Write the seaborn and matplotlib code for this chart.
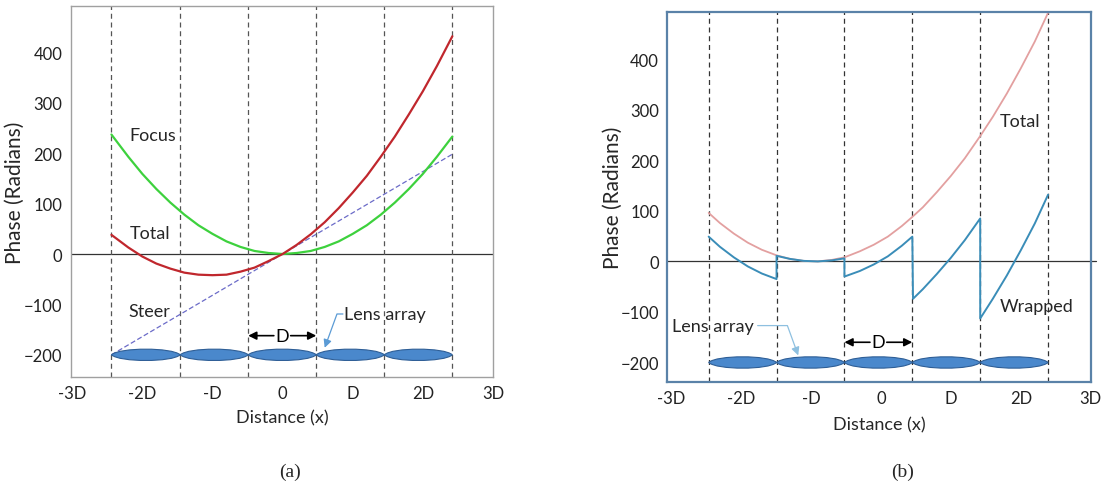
import numpy as np
import pandas as pd

import matplotlib
matplotlib.use('Agg')

from matplotlib import pyplot as plt
from matplotlib.path import Path
from matplotlib.patches import PathPatch
import seaborn as sns

# ---------------------------------------------------------------- data, panel (a)
x_a = [-2.44, -2.2, -2.0, -1.8, -1.6, -1.4, -1.2, -1.0, -0.8, -0.6, -0.4, -0.2, 0.0,
       0.2, 0.4, 0.6, 0.8, 1.0, 1.2, 1.4, 1.6, 1.8, 2.0, 2.2, 2.42]
focus_a = [237, 193, 159, 129, 102, 78, 57, 40, 25, 14, 6, 2, 0,
           2, 6, 14, 25, 40, 57, 78, 102, 129, 159, 193, 233]
total_a = [38, 13, -5, -19, -29, -37, -41, -42, -41, -35, -27, -14, 0,
           18, 39, 63, 91, 122, 155, 193, 233, 277, 323, 373, 432]
steer_x = [-2.44, 0.0, 2.42]
steer_y = [-200, 0, 198]
edges_a = [-2.44, -1.46, -0.49, 0.48, 1.45, 2.42]

# ---------------------------------------------------------------- data, panel (b)
x_b = [-2.46, -2.3, -2.1, -1.9, -1.7, -1.49, -1.3, -1.1, -0.9, -0.7, -0.52,
       -0.3, -0.1, 0.1, 0.3, 0.45, 0.6, 0.8, 1.0, 1.2, 1.42, 1.6, 1.8, 2.0,
       2.2, 2.39]
total_b = [96, 76, 55, 37, 23, 12, 5, 1, 0, 3, 8,
           20, 33, 49, 70, 88, 107, 137, 169, 204, 248, 286, 332, 382,
           435, 492]
wrapped_x = [-2.46, -2.3, -2.1, -1.9, -1.7, -1.49, -1.49, -1.3, -1.1, -0.9, -0.7, -0.52,
             -0.52, -0.3, -0.1, 0.1, 0.3, 0.45, 0.46, 0.6, 0.8, 1.0, 1.2, 1.42,
             1.42, 1.6, 1.8, 2.0, 2.2, 2.39]
wrapped_y = [49, 29, 8, -10, -24, -35, 11, 5, 1, 0, 2, 6,
             -30, -19, -6, 10, 31, 49, -74, -55, -25, 7, 42, 85,
             -113, -74, -28, 22, 75, 132]
edges_b = [-2.46, -1.49, -0.52, 0.45, 1.42, 2.39]

tick_pos = [-3, -2, -1, 0, 1, 2, 3]
tick_lbl = ['-3D', '-2D', '-D', '0', 'D', '2D', '3D']
y_ticks = [-200, -100, 0, 100, 200, 300, 400]

sns.set_style('white')
plt.rcParams['font.family'] = ['Lato', 'DejaVu Sans']


def draw_lenses(ax, edges, y0=-200, bulge=15):
    # one lens-shaped glyph between each pair of edges
    for left, right in zip(edges[:-1], edges[1:]):
        w = right - left
        verts = [(left, y0),
                 (left + 0.12 * w, y0 + bulge), (right - 0.12 * w, y0 + bulge), (right, y0),
                 (right - 0.12 * w, y0 - bulge), (left + 0.12 * w, y0 - bulge), (left, y0),
                 (left, y0)]
        codes = [Path.MOVETO,
                 Path.CURVE4, Path.CURVE4, Path.CURVE4,
                 Path.CURVE4, Path.CURVE4, Path.CURVE4,
                 Path.CLOSEPOLY]
        ax.add_patch(PathPatch(Path(verts, codes), facecolor='#4A88CC',
                               edgecolor='#2E5E96', lw=0.8, zorder=3))


def draw_d_arrow(ax, left, right, y):
    mid = (left + right) / 2
    ax.text(mid, y, 'D', ha='center', va='center', fontsize=13, color='black')
    for end in (left, right):
        start = mid + (0.12 if end > mid else -0.12)
        ax.annotate('', xy=(end, y), xytext=(start, y),
                    arrowprops=dict(arrowstyle='-|>', color='black', lw=1.2,
                                    mutation_scale=12, shrinkA=0, shrinkB=0))


def style_axes(ax, xlim, ylim, spine_color, spine_lw, ylab_x, xlab_y):
    ax.set_xlim(*xlim)
    ax.set_ylim(*ylim)
    ax.set_xticks(tick_pos)
    ax.set_xticklabels(tick_lbl)
    ax.set_yticks(y_ticks)
    ax.tick_params(axis='both', labelsize=12, colors='#222222', direction='in',
                   length=4, pad=6)
    ax.tick_params(axis='x', color=spine_color)
    ax.tick_params(axis='y', color=spine_color)
    for s in ax.spines.values():
        s.set_color(spine_color)
        s.set_linewidth(spine_lw)
    ax.set_xlabel('Distance (x)', fontsize=13)
    ax.set_ylabel('Phase (Radians)', fontsize=15)
    ax.yaxis.set_label_coords(ylab_x, 0.5)
    ax.xaxis.set_label_coords(0.5, xlab_y)


fig = plt.figure(figsize=(11.16, 4.89), dpi=100)
ax_a = fig.add_axes([0.0634, 0.2270, 0.3784, 0.7587])
ax_b = fig.add_axes([0.598, 0.2174, 0.3794, 0.7566])

# ---------------------------------------------------------------- panel (a)
ax_a.axhline(0, color='#333333', lw=0.9, zorder=1)
for e in edges_a:
    ax_a.axvline(e, color='#555555', lw=0.9, ls=(0, (4, 3)), zorder=1)

sns.lineplot(x=steer_x, y=steer_y, ax=ax_a, color='#6B6BC8', lw=0.9,
             linestyle=(0, (4, 2)), zorder=2)
sns.lineplot(x=x_a, y=focus_a, ax=ax_a, color='#3DD13D', lw=1.6, zorder=2)
sns.lineplot(x=x_a, y=total_a, ax=ax_a, color='#C0272D', lw=1.6, zorder=2)
draw_lenses(ax_a, edges_a)
draw_d_arrow(ax_a, edges_a[2], edges_a[3], -162)

ax_a.text(-2.18, 236, 'Focus', fontsize=13, va='center')
ax_a.text(-2.18, 41, 'Total', fontsize=13, va='center')
ax_a.text(-2.2, -113, 'Steer', fontsize=13, va='center')
ax_a.text(0.88, -119, 'Lens array', fontsize=13, va='center')
ax_a.annotate('', xy=(0.6, -186), xytext=(0.86, -119),
              arrowprops=dict(arrowstyle='-|>', color='#5B9BD5', lw=0.9,
                              mutation_scale=12, shrinkA=0, shrinkB=0,
                              connectionstyle='angle,angleA=180,angleB=70,rad=0'))
style_axes(ax_a, (-3.02, 2.97), (-244, 492), '#A0A0A0', 1.0, -0.109, -0.086)

# ---------------------------------------------------------------- panel (b)
ax_b.plot([-3.05, 3.07], [0, 0], color='#333333', lw=0.9, zorder=1, clip_on=False)
for e in edges_b:
    ax_b.axvline(e, color='#333333', lw=0.9, ls=(0, (4, 3)), zorder=1)

sns.lineplot(x=x_b, y=total_b, ax=ax_b, color='#E3A0A0', lw=1.3, zorder=2)
sns.lineplot(x=wrapped_x, y=wrapped_y, ax=ax_b, color='#3A8DB8', lw=1.4,
             estimator=None, sort=False, zorder=2)
draw_lenses(ax_b, edges_b)
draw_d_arrow(ax_b, edges_b[2], edges_b[3], -160)

ax_b.text(1.7, 278, 'Total', fontsize=13, va='center')
ax_b.text(1.7, -89, 'Wrapped', fontsize=13, va='center')
ax_b.text(-2.98, -127, 'Lens array', fontsize=13, va='center')
ax_b.annotate('', xy=(-1.18, -186), xytext=(-1.76, -127),
              arrowprops=dict(arrowstyle='-|>', color='#8EC0E0', lw=0.9,
                              mutation_scale=12, shrinkA=0, shrinkB=0,
                              connectionstyle='angle,angleA=0,angleB=110,rad=0'))
style_axes(ax_b, (-3.05, 2.97), (-238, 494), '#5A82A8', 1.6, -0.104, -0.093)

fig.text(0.26, 0.035, '(a)', fontsize=14, ha='center', va='center',
         family=['Liberation Serif', 'DejaVu Serif'])
fig.text(0.809, 0.035, '(b)', fontsize=14, ha='center', va='center',
         family=['Liberation Serif', 'DejaVu Serif'])

fig.savefig('out.png', dpi=100)
plt.close(fig)
